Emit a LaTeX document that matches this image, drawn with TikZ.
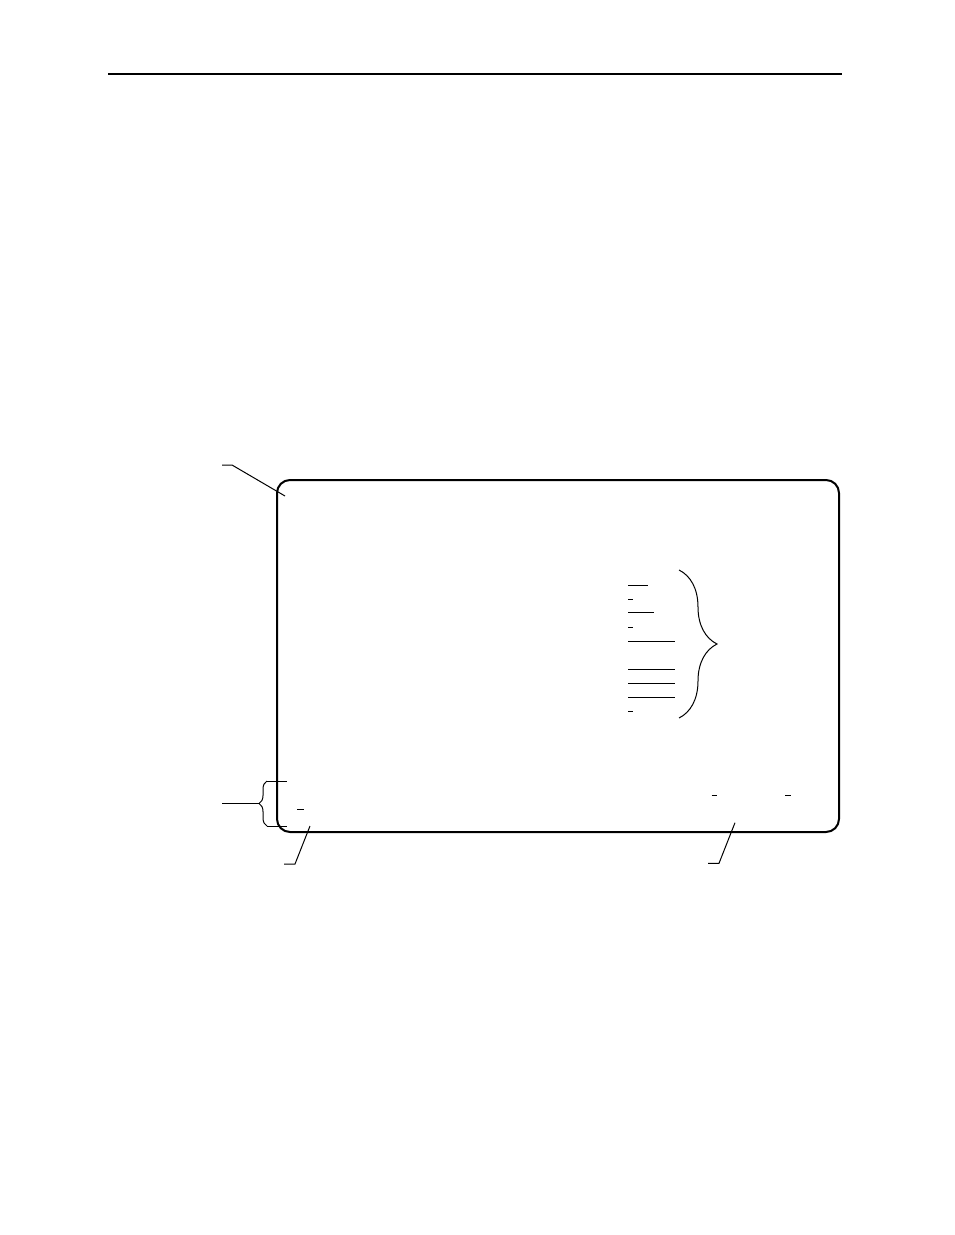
\documentclass[tikz,border=0pt]{standalone}
\usetikzlibrary{decorations.pathreplacing}
\begin{document}
\begin{tikzpicture}[x=1pt,y=-1pt,
  thinline/.style={line width=1pt},
  frameline/.style={line width=2pt,rounded corners=13pt},
  ruleline/.style={line width=1.1pt},
  bracestyle/.style={line width=1pt,decorate}]
\useasboundingbox (0,0) rectangle (954,1235);
% header rule
\coordinate (hl) at (108,74);
\coordinate (hr) at (842,74);
\draw[ruleline] (hl) -- (hr);
% screen frame
\coordinate (fa) at (277,480);
\coordinate (fb) at (839,832);
\draw[frameline] (fa) rectangle (fb);
% top-left leader
\coordinate (l1a) at (222,465);
\coordinate (l1b) at (232,465);
\coordinate (l1c) at (285,496);
\draw[thinline] (l1a) -- (l1b) -- (l1c);
% underlines in menu
\foreach \y/\xe in {585/648,599.3/633,612.7/654,627.3/633,641/675,669/675,683.3/675,697.3/675,711.7/633}{
  \draw[thinline] (628,\y) -- (\xe,\y);
}
% right brace
\coordinate (rb1) at (679,570);
\coordinate (rb2) at (679,718);
\draw[bracestyle,decoration={brace,amplitude=38pt}] (rb1) -- (rb2);
% left brace with arms
\coordinate (lb1) at (267,826);
\coordinate (lb2) at (267,781);
\draw[bracestyle,decoration={brace,amplitude=8pt}] (lb1) -- (lb2);
\coordinate (la1) at (287,781);
\coordinate (la2) at (287,826);
\draw[thinline] (lb2) -- (la1);
\draw[thinline] (lb1) -- (la2);
\coordinate (l2a) at (222,803);
\coordinate (l2b) at (259,803);
\draw[thinline] (l2a) -- (l2b);
% small dashes
\draw[thinline] (297,809) -- (304,809);
\draw[thinline] (711.7,795) -- (716.7,795);
\draw[thinline] (785,795) -- (790.7,795);
% bottom-left leader
\coordinate (l3a) at (310,826);
\coordinate (l3b) at (295,864);
\coordinate (l3c) at (284,864);
\draw[thinline] (l3a) -- (l3b) -- (l3c);
% bottom-right leader
\coordinate (l4a) at (735,822.7);
\coordinate (l4b) at (719,863.3);
\coordinate (l4c) at (708,863.3);
\draw[thinline] (l4a) -- (l4b) -- (l4c);
\end{tikzpicture}
\end{document}
